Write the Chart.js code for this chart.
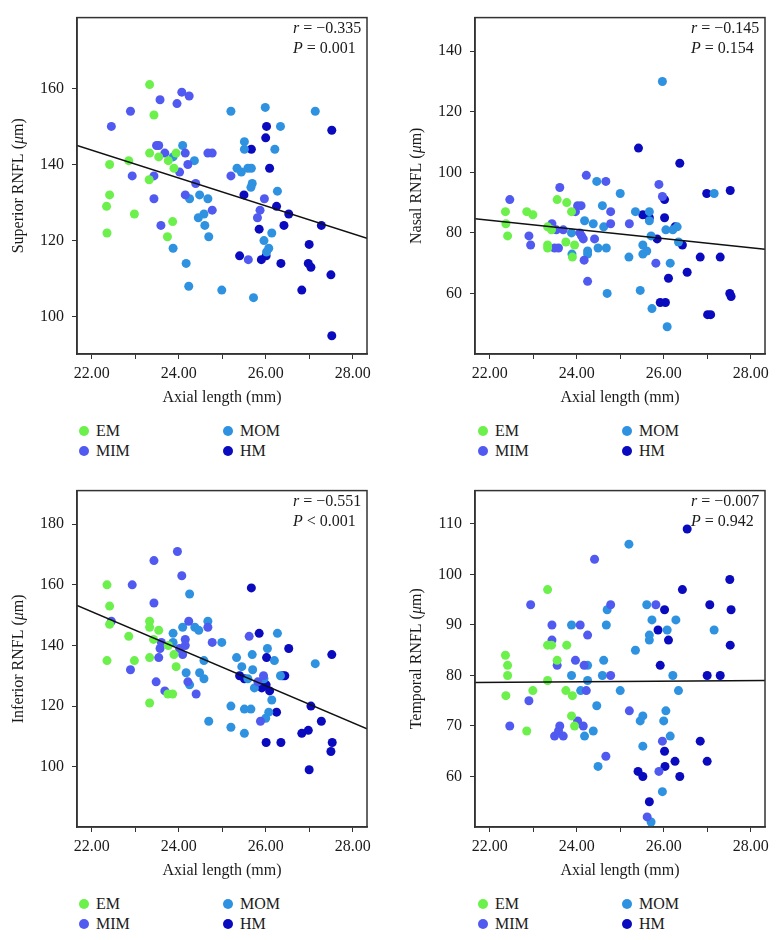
<!DOCTYPE html>
<html>
<head>
<meta charset="utf-8">
<script src="https://cdn.jsdelivr.net/npm/chart.js@4/dist/chart.umd.min.js"></script>
<style>
  body { margin: 0; background: #fff; }
  #wrap { position: relative; width: 777px; height: 940px; background: #fff; }
  canvas { position: absolute; }
  .legend { position: absolute; font: 16px "Liberation Serif", serif; color: #1a1a1a; }
  .item { position: absolute; white-space: nowrap; line-height: 20px; }
  .dot { position: absolute; width: 10px; height: 10px; border-radius: 50%; top: 5px; }
</style>
</head>
<body>
<div id="wrap">
  <canvas id="sup" width="379" height="415" style="left:0;top:0"></canvas>
  <canvas id="nas" width="379" height="415" style="left:398px;top:0"></canvas>
  <canvas id="inf" width="379" height="415" style="left:0;top:473px"></canvas>
  <canvas id="tem" width="379" height="415" style="left:398px;top:473px"></canvas>
</div>
<script>
// groups
var groupNames = ['EM', 'MIM', 'MOM', 'HM'];
var groupColors = ['#6cf04c', '#5059f0', '#2e92e0', '#0a0abe'];

// axis setup
var xRange = [21.66, 28.33];
var xTicks = [22, 23, 24, 25, 26, 27, 28];
var fitX = [21.66, 28.33];

// superior RNFL
var supEM = [[23.33,161],[23.43,153],[23.33,143],[23.94,143],[23.54,142],[23.76,141],[22.85,141],[22.41,140],[23.89,139],[23.32,136],[22.41,132],[22.34,129],[22.98,127],[23.86,125],[22.35,122],[23.74,121]];
var supMIM = [[22.45,150],[22.89,154],[23.57,157],[24.07,159],[24.24,158],[23.96,156],[23.49,145],[23.54,145],[23.68,143],[24.15,143],[24.67,143],[24.77,143],[24.02,138],[24.21,140],[22.93,137],[23.43,137],[23.43,131],[24.15,132],[24.39,135],[23.59,124],[24.77,128],[25.97,131],[25.87,128],[25.81,126],[25.2,137],[25.6,115]];
var supMOM = [[23.87,142],[24.09,145],[24.36,141],[24.25,131],[24.48,132],[24.67,131],[24.45,126],[24.58,127],[24.6,124],[24.69,121],[23.87,118],[24.17,114],[24.23,108],[24.99,107],[25.2,154],[25.34,139],[25.44,138],[25.51,146],[25.51,144],[25.59,139],[25.67,139],[25.66,134],[25.69,135],[25.99,155],[26.34,150],[26.21,144],[26.27,133],[26.14,122],[25.96,120],[26.07,118],[26.02,117],[25.72,105],[27.14,154]];
var supHM = [[25.67,144],[26.02,150],[26.0,147],[26.09,139],[25.5,132],[26.25,129],[26.53,127],[26.42,124],[25.85,123],[27.28,124],[25.4,116],[26.01,116],[25.9,115],[26.35,114],[27.0,119],[26.98,114],[27.04,113],[27.5,111],[26.83,107],[27.52,149],[27.52,95]];
var supFit = [145.0, 120.6];
var supRange = [90.2, 178.6];
var supTicks = [100, 120, 140, 160];

// nasal RNFL
var nasEM = [[22.36,87],[22.37,83],[22.41,79],[22.85,87],[22.99,86],[23.55,91],[23.77,90],[23.88,87],[23.33,82],[23.42,81],[23.33,76],[23.33,75],[23.75,77],[23.95,76],[23.9,72]];
var nasMIM = [[22.46,91],[22.9,79],[22.94,76],[23.43,83],[23.53,81],[23.69,81],[23.61,95],[23.49,75],[23.58,75],[24.22,99],[23.97,87],[24.02,89],[24.1,89],[24.07,80],[24.11,79],[24.15,78],[24.17,71],[24.25,64],[24.41,78],[24.67,97],[24.78,87],[24.78,83],[25.21,83],[25.89,96],[25.97,92],[25.82,70]];
var nasMOM = [[23.88,80],[23.89,73],[24.18,84],[24.25,74],[24.25,73],[24.38,83],[24.46,97],[24.49,75],[24.59,89],[24.62,82],[24.68,75],[24.7,60],[25.0,93],[25.2,72],[25.35,87],[25.46,61],[25.52,76],[25.52,73],[25.61,74],[25.67,87],[25.67,84],[25.71,79],[25.73,55],[25.97,130],[26.05,81],[26.08,49],[26.15,70],[26.21,81],[26.31,82],[26.34,77],[27.16,93]];
var nasHM = [[25.42,108],[26.37,103],[25.52,86],[25.67,85],[26.02,91],[26.02,85],[25.85,78],[26.26,82],[26.43,76],[26.11,65],[26.54,67],[25.92,57],[26.04,57],[26.99,93],[26.84,72],[27.3,72],[27.53,94],[27.52,60],[27.55,59],[27.01,53],[27.08,53]];
var nasFit = [84.7, 74.6];
var nasRange = [40, 151.1];
var nasTicks = [60, 80, 100, 120, 140];

// inferior RNFL
var infEM = [[22.35,160],[22.41,153],[22.41,147],[22.85,143],[22.35,135],[22.98,135],[23.33,148],[23.33,146],[23.42,142],[23.54,145],[23.33,136],[23.89,137],[23.76,140],[23.94,133],[23.75,124],[23.86,124],[23.33,121]];
var infMIM = [[22.45,148],[22.93,160],[22.89,132],[23.43,168],[23.97,171],[24.07,163],[23.43,154],[23.57,139],[23.6,141],[23.54,136],[23.48,128],[23.68,125],[24.02,139],[24.09,137],[24.15,142],[24.15,140],[24.23,148],[24.21,128],[24.4,124],[24.67,146],[24.77,141],[25.62,143],[25.82,128],[25.95,130],[25.88,115]];
var infMOM = [[23.87,144],[23.87,141],[24.09,146],[24.25,157],[24.37,146],[24.46,145],[24.67,148],[24.58,135],[24.17,131],[24.25,127],[24.48,131],[24.58,129],[24.99,141],[24.69,115],[25.33,136],[25.45,133],[25.69,137],[25.7,132],[25.51,119],[25.66,119],[25.2,120],[25.2,113],[25.51,111],[25.74,126],[25.59,129],[25.96,129],[26.04,139],[26.2,135],[26.27,144],[26.34,130],[26.14,122],[26.07,118],[26.0,116],[27.14,134]];
var infHM = [[25.67,159],[25.85,144],[26.02,136],[26.53,139],[27.52,137],[25.4,130],[25.51,129],[25.91,126],[26.01,127],[26.09,125],[26.39,130],[26.44,130],[26.25,118],[27.04,120],[27.28,115],[26.83,111],[26.98,112],[26.01,108],[26.35,108],[27.53,108],[27.5,105],[27.0,99]];
var infFit = [153.2, 112.5];
var infRange = [80.1, 191.1];
var infTicks = [100, 120, 140, 160, 180];

// temporal RNFL
var temEM = [[22.36,84],[22.41,82],[22.41,80],[22.37,76],[22.99,77],[22.85,69],[23.33,97],[23.33,86],[23.42,86],[23.55,83],[23.33,79],[23.77,86],[23.75,77],[23.9,76],[23.88,72],[23.95,70]];
var temMIM = [[22.94,94],[22.46,70],[22.9,75],[23.43,90],[23.43,87],[23.55,82],[23.49,68],[23.58,69],[23.61,70],[23.69,68],[24.41,103],[24.08,90],[24.25,88],[23.97,83],[24.17,82],[24.22,77],[24.02,71],[24.15,70],[24.78,94],[24.78,80],[24.67,64],[25.21,73],[25.82,94],[25.89,61],[25.97,67],[25.62,52]];
var temMOM = [[23.88,90],[23.88,80],[24.09,77],[24.25,82],[24.25,79],[24.18,68],[24.38,69],[24.46,74],[24.49,62],[24.59,80],[24.62,83],[24.68,90],[24.7,93],[25.0,77],[25.2,106],[25.35,85],[25.46,71],[25.52,72],[25.52,66],[25.61,94],[25.67,88],[25.67,87],[25.73,91],[25.71,51],[25.97,57],[26.0,71],[26.05,73],[26.08,89],[26.15,68],[26.21,80],[26.28,91],[26.34,77],[27.16,89]];
var temHM = [[26.54,109],[26.43,97],[26.02,93],[25.87,89],[26.11,87],[25.92,82],[26.02,65],[26.03,62],[26.26,63],[26.37,60],[25.41,61],[25.52,60],[25.67,55],[27.06,94],[27.0,80],[27.3,80],[26.84,67],[27.0,63],[27.52,99],[27.55,93],[27.53,86]];
var temFit = [78.6, 79.0];
var temRange = [50, 116.6];
var temTicks = [60, 70, 80, 90, 100, 110];

// stats text
var rTexts = ['\u22120.335', '\u22120.145', '\u22120.551', '\u22120.007'];
var pTexts = ['= 0.001', '= 0.154', '< 0.001', '= 0.942'];
var yTitles = ['Superior RNFL', 'Nasal RNFL', 'Inferior RNFL', 'Temporal RNFL'];

var FONT = '"Liberation Serif", "DejaVu Serif", serif';
var INK = '#1a1a1a';

function drawRuns(ctx, x, y, runs) {
    for (let i = 0; i < runs.length; i++) {
        ctx.font = runs[i][0] + ' 16px ' + FONT;
        ctx.fillText(runs[i][1], x, y);
        x += ctx.measureText(runs[i][1]).width;
    }
}

function runsWidth(ctx, runs) {
    var w = 0;
    for (let i = 0; i < runs.length; i++) {
        ctx.font = runs[i][0] + ' 16px ' + FONT;
        w += ctx.measureText(runs[i][1]).width;
    }
    return w;
}

// frame, r/P note and axis titles
var panelDecor = {
    id: 'panelDecor',
    afterDatasetsDraw(chart) {
        var o = chart.options.plugins.panelDecor;
        var ctx = chart.ctx, a = chart.chartArea;
        ctx.save();
        ctx.strokeStyle = '#333';
        ctx.lineWidth = 1.5;
        ctx.strokeRect(a.left, a.top, a.right - a.left, a.bottom - a.top);

        ctx.fillStyle = INK;
        ctx.textBaseline = 'middle';
        ctx.textAlign = 'left';
        var nx = a.right - 74;
        drawRuns(ctx, nx, a.top + 11, [['italic', 'r'], ['normal', ' = ' + o.r]]);
        drawRuns(ctx, nx, a.top + 31, [['italic', 'P'], ['normal', ' ' + o.p]]);

        // x title
        ctx.font = '16px ' + FONT;
        ctx.textAlign = 'center';
        ctx.fillText('Axial length (mm)', (a.left + a.right) / 2, a.bottom + 44);

        // y title with italic mu
        var runs = [['normal', o.yTitle + ' ('], ['italic', '\u03bc'], ['normal', 'm)']];
        ctx.textAlign = 'left';
        var w = runsWidth(ctx, runs);
        ctx.translate(a.left - 58, (a.top + a.bottom) / 2);
        ctx.rotate(-Math.PI / 2);
        drawRuns(ctx, -w / 2, 0, runs);
        ctx.restore();
    }
};

function buildChart(id, groups, fit, yRange, yTicks, idx) {
    var datasets = [];
    for (let i = 0; i < groups.length; i++) {
        datasets.push({
            label: groupNames[i],
            data: groups[i].map(p => ({x: p[0], y: p[1]})),
            backgroundColor: groupColors[i],
            borderWidth: 0,
            pointRadius: 4.5,
            order: 1
        });
    }
    datasets.push({
        type: 'line',
        label: 'fit',
        data: [{x: fitX[0], y: fit[0]}, {x: fitX[1], y: fit[1]}],
        borderColor: '#111',
        borderWidth: 1.5,
        pointRadius: 0,
        order: 0
    });

    var tickFont = {family: FONT, size: 16};
    new Chart(document.getElementById(id).getContext('2d'), {
        type: 'scatter',
        data: {datasets: datasets},
        options: {
            responsive: false,
            animation: false,
            devicePixelRatio: 1,
            layout: {padding: {top: 11, right: 12, left: 0, bottom: 0}},
            plugins: {
                legend: {display: false},
                tooltip: {enabled: false},
                panelDecor: {r: rTexts[idx], p: pTexts[idx], yTitle: yTitles[idx]}
            },
            scales: {
                x: {
                    type: 'linear',
                    min: xRange[0],
                    max: xRange[1],
                    afterBuildTicks: s => { s.ticks = xTicks.map(v => ({value: v})); },
                    afterFit: s => { s.height = 61; },
                    ticks: {
                        callback: v => (v % 2 === 0 ? v.toFixed(2) : ''),
                        font: tickFont, color: INK, padding: 5,
                        maxRotation: 0, autoSkip: false
                    },
                    grid: {drawOnChartArea: false, tickLength: 5, color: '#333'},
                    border: {color: '#333', width: 1.5}
                },
                y: {
                    type: 'linear',
                    min: yRange[0],
                    max: yRange[1],
                    afterBuildTicks: s => { s.ticks = yTicks.map(v => ({value: v})); },
                    afterFit: s => { s.width = 77; },
                    ticks: {font: tickFont, color: INK, padding: 8},
                    grid: {drawOnChartArea: false, tickLength: 5, color: '#333'},
                    border: {color: '#333', width: 1.5}
                }
            }
        },
        plugins: [panelDecor]
    });
}

function buildLegend(left, top) {
    var box = document.createElement('div');
    box.className = 'legend';
    box.style.left = left + 'px';
    box.style.top = top + 'px';
    // column order: EM, MIM left; MOM, HM right
    var spots = [[0, 0], [0, 20], [144, 0], [144, 20]];
    for (let i = 0; i < groupNames.length; i++) {
        var it = document.createElement('div');
        it.className = 'item';
        it.style.left = spots[i][0] + 'px';
        it.style.top = spots[i][1] + 'px';
        it.innerHTML = '<span class="dot" style="left:0;background:' + groupColors[i] + '"></span>' +
            '<span style="margin-left:17px">' + groupNames[i] + '</span>';
        box.appendChild(it);
    }
    document.getElementById('wrap').appendChild(box);
}

buildChart('sup', [supEM, supMIM, supMOM, supHM], supFit, supRange, supTicks, 0);
buildChart('nas', [nasEM, nasMIM, nasMOM, nasHM], nasFit, nasRange, nasTicks, 1);
buildChart('inf', [infEM, infMIM, infMOM, infHM], infFit, infRange, infTicks, 2);
buildChart('tem', [temEM, temMIM, temMOM, temHM], temFit, temRange, temTicks, 3);

buildLegend(79, 421);
buildLegend(478, 421);
buildLegend(79, 894);
buildLegend(478, 894);
</script>
</body>
</html>
